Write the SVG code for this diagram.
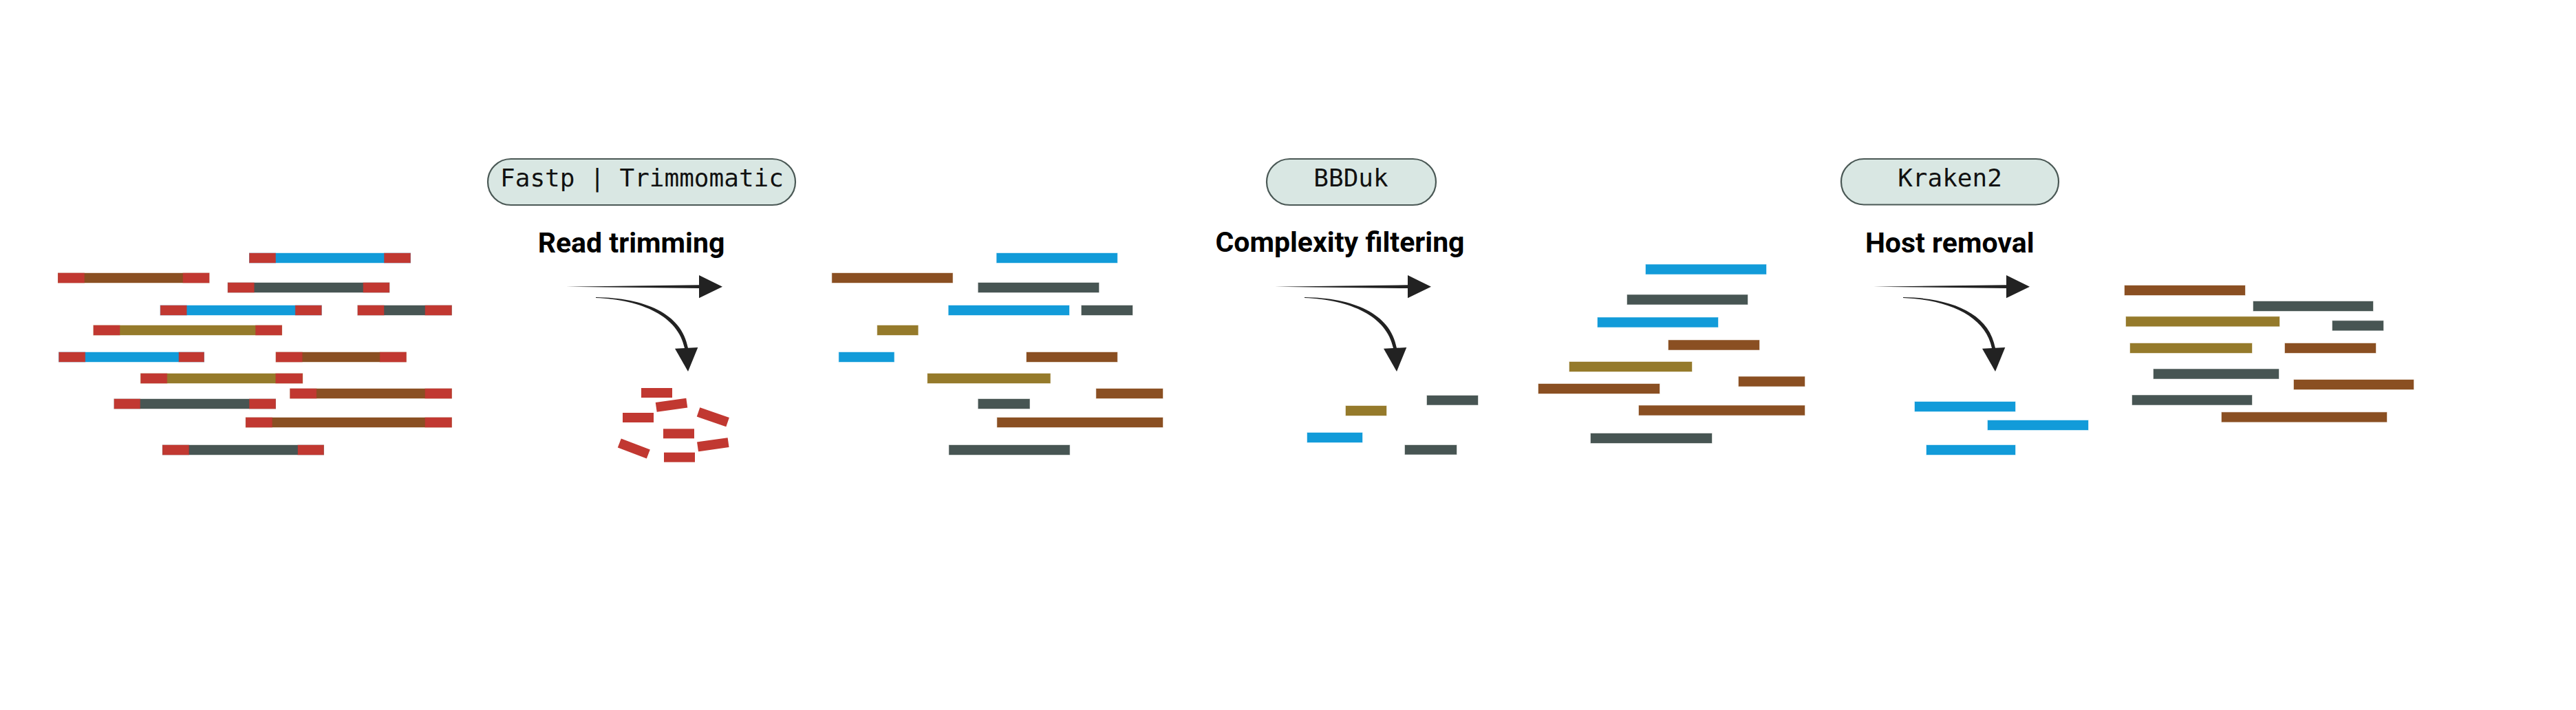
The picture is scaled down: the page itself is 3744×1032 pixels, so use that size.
<svg xmlns="http://www.w3.org/2000/svg" width="3744" height="1032" viewBox="0 0 3744 1032">
<style>
.bl{fill:#129bd9;stroke:#129bd9;stroke-opacity:.45}
.br{fill:#8a4f22;stroke:#8a4f22;stroke-opacity:.45}
.gy{fill:#475553;stroke:#475553;stroke-opacity:.45}
.ol{fill:#957a2b;stroke:#957a2b;stroke-opacity:.45}
.rd{fill:#c13831;stroke:#c13831;stroke-opacity:.45}
.fr{fill:#c13831}
rect{stroke-width:1}
.pill{fill:#d9e7e3;stroke:#4a5855;stroke-width:2.2}
.tool{font-family:"DejaVu Sans Mono",monospace;font-size:36px;fill:#111;text-anchor:middle}
.step{font-family:Roboto,"Liberation Sans",sans-serif;font-weight:700;font-size:41px;fill:#000;text-anchor:middle}
.arr{fill:#222}
</style>
<rect width="3744" height="1032" fill="#fff"/>

<g id="raw-reads">
<rect class="bl" x="362.5" y="368" width="234" height="14"/><rect class="rd" x="362.5" y="368" width="38" height="14"/><rect class="rd" x="558.5" y="368" width="38" height="14"/>
<rect class="br" x="84.5" y="397" width="219.5" height="14"/><rect class="rd" x="84.5" y="397" width="38" height="14"/><rect class="rd" x="266" y="397" width="38" height="14"/>
<rect class="gy" x="331.3" y="411" width="234.5" height="14"/><rect class="rd" x="331.3" y="411" width="38" height="14"/><rect class="rd" x="528" y="411" width="37.8" height="14"/>
<rect class="bl" x="233.2" y="444" width="234" height="14"/><rect class="rd" x="233.2" y="444" width="38" height="14"/><rect class="rd" x="429.3" y="444" width="38" height="14"/>
<rect class="gy" x="520" y="444" width="136.3" height="14"/><rect class="rd" x="520" y="444" width="38" height="14"/><rect class="rd" x="618" y="444" width="38.3" height="14"/>
<rect class="ol" x="136" y="473" width="273.5" height="14"/><rect class="rd" x="136" y="473" width="38" height="14"/><rect class="rd" x="371.6" y="473" width="38" height="14"/>
<rect class="bl" x="85.7" y="512" width="210.8" height="14"/><rect class="rd" x="85.7" y="512" width="38" height="14"/><rect class="rd" x="260" y="512" width="36.5" height="14"/>
<rect class="br" x="401.2" y="512" width="189" height="14"/><rect class="rd" x="401.2" y="512" width="38" height="14"/><rect class="rd" x="552.3" y="512" width="38" height="14"/>
<rect class="ol" x="204.7" y="543" width="235" height="14"/><rect class="rd" x="204.7" y="543" width="38" height="14"/><rect class="rd" x="400.8" y="543" width="38.8" height="14"/>
<rect class="br" x="421.8" y="565" width="234.5" height="14"/><rect class="rd" x="421.8" y="565" width="38" height="14"/><rect class="rd" x="618" y="565" width="38.3" height="14"/>
<rect class="gy" x="166" y="580" width="234.4" height="14"/><rect class="rd" x="166" y="580" width="37.5" height="14"/><rect class="rd" x="362.5" y="580" width="38" height="14"/>
<rect class="br" x="357.4" y="607" width="298.9" height="14"/><rect class="rd" x="357.4" y="607" width="38" height="14"/><rect class="rd" x="618" y="607" width="38.3" height="14"/>
<rect class="gy" x="236.4" y="647" width="234" height="14"/><rect class="rd" x="236.4" y="647" width="38" height="14"/><rect class="rd" x="433" y="647" width="37.4" height="14"/>
</g>

<g id="tool-fastp">
<rect class="pill" x="709" y="231" width="447" height="67" rx="33.5"/>
<text class="tool" x="933" y="271">Fastp | Trimmomatic</text>
</g>
<g id="step-read-trimming">
<text class="step" x="917.5" y="367">Read trimming</text>
</g>
<g id="trimmed-adapters">
<rect class="fr" x="932" y="564" width="45" height="14"/>
<rect class="fr" x="953.5" y="581.7" width="45" height="14" transform="rotate(-8 976 588.7)"/>
<rect class="fr" x="905" y="600" width="45" height="14"/>
<rect class="fr" x="1013.8" y="599.3" width="45" height="14" transform="rotate(19 1036.3 606.3)"/>
<rect class="fr" x="964" y="623.3" width="45" height="14"/>
<rect class="fr" x="898.8" y="645" width="45" height="14" transform="rotate(21 921.3 652)"/>
<rect class="fr" x="1013.8" y="639.3" width="45" height="14" transform="rotate(-8 1036.3 646.3)"/>
<rect class="fr" x="965" y="657.7" width="45" height="14"/>
</g>

<g id="trimmed-reads">
<rect class="bl" x="1448.6" y="368" width="175.3" height="14"/>
<rect class="br" x="1209.3" y="397" width="175.3" height="14"/>
<rect class="gy" x="1421.8" y="411" width="175.3" height="14"/>
<rect class="bl" x="1378.7" y="444" width="175.3" height="14"/>
<rect class="gy" x="1571.9" y="444" width="74.1" height="14"/>
<rect class="ol" x="1275.1" y="473" width="59.2" height="14"/>
<rect class="bl" x="1219.3" y="512" width="80.2" height="14"/>
<rect class="br" x="1492" y="512" width="131.9" height="14"/>
<rect class="ol" x="1348.1" y="543" width="178.4" height="14"/>
<rect class="br" x="1593.3" y="565" width="96.7" height="14"/>
<rect class="gy" x="1421.8" y="580" width="74.7" height="14"/>
<rect class="br" x="1449.3" y="607" width="240.7" height="14"/>
<rect class="gy" x="1379.4" y="647" width="175.3" height="14"/>
</g>

<g id="tool-bbduk">
<rect class="pill" x="1841" y="231" width="246" height="67" rx="33.5"/>
<text class="tool" x="1963.5" y="271">BBDuk</text>
</g>
<g id="step-complexity-filtering">
<text class="step" x="1947.5" y="366">Complexity filtering</text>
</g>
<g id="low-complexity-reads">
<rect class="gy" x="2074" y="575" width="74" height="13.5"/>
<rect class="ol" x="1956" y="590" width="59" height="14"/>
<rect class="bl" x="1900" y="629" width="80" height="14"/>
<rect class="gy" x="2042" y="647" width="75" height="13.5"/>
</g>

<g id="filtered-reads">
<rect class="bl" x="2392" y="384.5" width="175" height="14"/>
<rect class="gy" x="2365" y="428.5" width="175" height="14"/>
<rect class="bl" x="2322" y="461.5" width="175" height="14"/>
<rect class="br" x="2425" y="494.5" width="132" height="14"/>
<rect class="ol" x="2281" y="526" width="178" height="14"/>
<rect class="br" x="2527" y="547.5" width="96" height="14"/>
<rect class="br" x="2236" y="558" width="176" height="14"/>
<rect class="br" x="2382" y="589.5" width="241" height="14"/>
<rect class="gy" x="2312" y="630" width="176" height="14"/>
</g>

<g id="tool-kraken2">
<rect class="pill" x="2676" y="231" width="316" height="66.5" rx="33"/>
<text class="tool" x="2834" y="271">Kraken2</text>
</g>
<g id="step-host-removal">
<text class="step" x="2833.7" y="366.5">Host removal</text>
</g>
<g id="host-reads">
<rect class="bl" x="2783" y="584" width="146" height="14"/>
<rect class="bl" x="2889" y="611" width="146" height="14"/>
<rect class="bl" x="2800" y="647" width="129" height="14"/>
</g>

<g id="clean-reads">
<rect class="br" x="3088" y="415" width="175" height="14"/>
<rect class="gy" x="3275" y="438" width="174" height="14"/>
<rect class="ol" x="3090" y="460.3" width="223" height="14"/>
<rect class="gy" x="3390" y="466.3" width="74" height="14"/>
<rect class="ol" x="3096" y="499" width="177" height="14"/>
<rect class="br" x="3321" y="499" width="132" height="14"/>
<rect class="gy" x="3130" y="536.5" width="182" height="14"/>
<rect class="br" x="3334" y="552" width="174" height="14"/>
<rect class="gy" x="3099" y="574.5" width="174" height="14"/>
<rect class="br" x="3229" y="599.3" width="240" height="14"/>
</g>

<g id="connectors">
<g id="arrows-trimming">
<path class="arr" d="M823,416.7 L1016,414.3 L1016,400 L1050,416.7 L1016,433.3 L1016,419.1 Z"/>
<path class="arr" d="M866,432 C936,433 991,455 1000,506 L995,506 C986,460 933,435.5 866,433 Z"/>
<polygon class="arr" points="981,506.7 1014.3,505 1000,540"/>
</g>
<g id="arrows-complexity" transform="translate(1030,0)">
<path class="arr" d="M823,416.7 L1016,414.3 L1016,400 L1050,416.7 L1016,433.3 L1016,419.1 Z"/>
<path class="arr" d="M866,432 C936,433 991,455 1000,506 L995,506 C986,460 933,435.5 866,433 Z"/>
<polygon class="arr" points="981,506.7 1014.3,505 1000,540"/>
</g>
<g id="arrows-host" transform="translate(1900,0)">
<path class="arr" d="M823,416.7 L1016,414.3 L1016,400 L1050,416.7 L1016,433.3 L1016,419.1 Z"/>
<path class="arr" d="M866,432 C936,433 991,455 1000,506 L995,506 C986,460 933,435.5 866,433 Z"/>
<polygon class="arr" points="981,506.7 1014.3,505 1000,540"/>
</g>
</g>
</svg>
